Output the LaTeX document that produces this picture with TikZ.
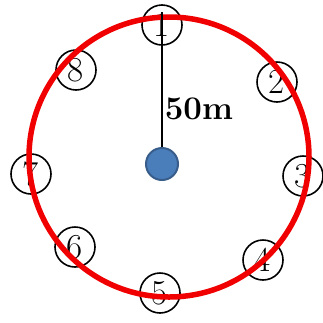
\documentclass[tikz,border=0pt]{standalone}
\usepackage{tikz}

\definecolor{bluPalo}{HTML}{4A7EBB}
\definecolor{bluBordo}{HTML}{385D8A}
\definecolor{rossoRaggio}{HTML}{F00000}

\begin{document}
\begin{tikzpicture}[
    x=1pt, y=-1pt,
    palo/.style={circle, fill=bluPalo, draw=bluBordo, line width=2pt, inner sep=0pt, minimum size=32pt},
    punto/.style={circle, draw=black, line width=1.6pt, fill=none, inner sep=0pt, minimum size=40pt, font=\fontsize{35}{35}\selectfont},
    raggio/.style={draw=black, line width=1.8pt},
    cerchio/.style={circle, draw=rossoRaggio, line width=5.5pt, inner sep=0pt, minimum size=280pt}
]
    \useasboundingbox (0,0) rectangle (323,322);

    % 1. Punti di misura lungo il cerchio
    \node[punto] (P1) at (162,25) {1};
    \node[punto] (P2) at (277,82) {2};
    \node[punto] (P3) at (303,176) {3};
    \node[punto] (P4) at (263,260) {4};
    \node[punto] (P5) at (160,293) {5};
    \node[punto] (P6) at (75,247) {6};
    \node[punto] (P7) at (31,174) {7};
    \node[punto] (P8) at (76,70) {8};

    % 2. Cerchio rosso di raggio 50 m
    \node[cerchio] (C) at (169,157) {};

    % 3. Raggio e palo centrale
    \coordinate (Top) at (162,12);
    \coordinate (Centro) at (162,164);
    \draw[raggio] (Centro) -- (Top) node[pos=0.36, right, inner sep=2pt, font=\fontsize{33}{33}\selectfont\bfseries] {50m};
    \node[palo] (Palo) at (Centro) {};

\end{tikzpicture}
\end{document}
